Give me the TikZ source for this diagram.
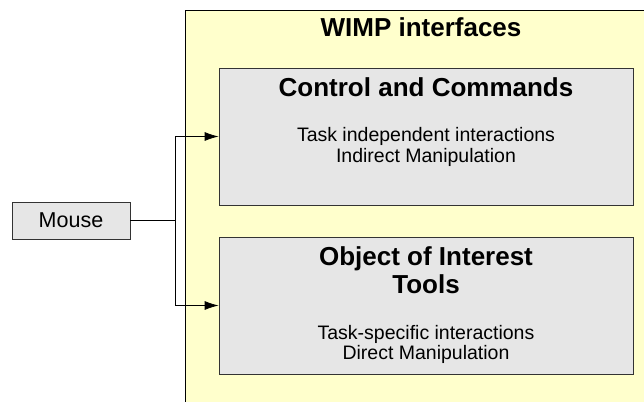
\documentclass[tikz,border=0pt]{standalone}
\usepackage{fontspec}
\setmainfont{Liberation Sans}
\usetikzlibrary{arrows.meta}

\definecolor{panelyellow}{HTML}{FFFFCC}
\definecolor{boxgray}{HTML}{E6E6E6}
\definecolor{edgegray}{HTML}{333333}

\tikzset{
  panel/.style={draw=black, line width=0.8pt, fill=panelyellow, inner sep=0pt},
  groupbox/.style={draw=edgegray, line width=0.8pt, fill=boxgray, inner sep=0pt,
                   minimum width=414pt, minimum height=137pt},
  sourcebox/.style={draw=edgegray, line width=0.8pt, fill=boxgray, inner sep=0pt,
                    minimum width=118pt, minimum height=37pt},
  headline/.style={anchor=base, inner sep=0pt, font=\fontsize{26}{30}\selectfont\bfseries},
  bodyline/.style={anchor=base, inner sep=0pt, font=\fontsize{19.5}{23}\selectfont},
  feed/.style={draw=black, line width=0.8pt, -{Latex[length=14pt,width=9pt]}}
}

\begin{document}
\begin{tikzpicture}[x=1pt, y=-1pt]
  \useasboundingbox (0,0) rectangle (644,401);
  \clip (0,0) rectangle (644,401);

  % outer container, running past the right and bottom edges
  \node[panel, minimum width=480pt, minimum height=420pt, anchor=north west] (wimp) at (185,10) {};
  \node[headline] (wimptitle) at (421,37) {WIMP interfaces};

  % the two interaction groups
  \node[groupbox] (ctrl) at (426,136.5) {};
  \node[headline] (ctrltitle) at (426,97) {Control and Commands};
  \node[bodyline] (ctrlA) at (426,141) {Task independent interactions};
  \node[bodyline] (ctrlB) at (426,162) {Indirect Manipulation};

  \node[groupbox] (obj) at (426,305.5) {};
  \node[headline] (objtitle) at (426,265) {Object of Interest};
  \node[headline] (objtitleB) at (426,293) {Tools};
  \node[bodyline] (objA) at (426,339) {Task-specific interactions};
  \node[bodyline] (objB) at (426,359) {Direct Manipulation};

  % input device
  \node[sourcebox, font=\fontsize{21.5}{25}\selectfont] (mouse) at (71,220.5) {Mouse};

  % connectors
  \coordinate (split) at (175,220.5);
  \draw[line width=0.8pt] (mouse.east) -- (split);
  \draw[feed] (split) |- (ctrl.west);
  \draw[feed] (split) |- (obj.west);
\end{tikzpicture}
\end{document}
